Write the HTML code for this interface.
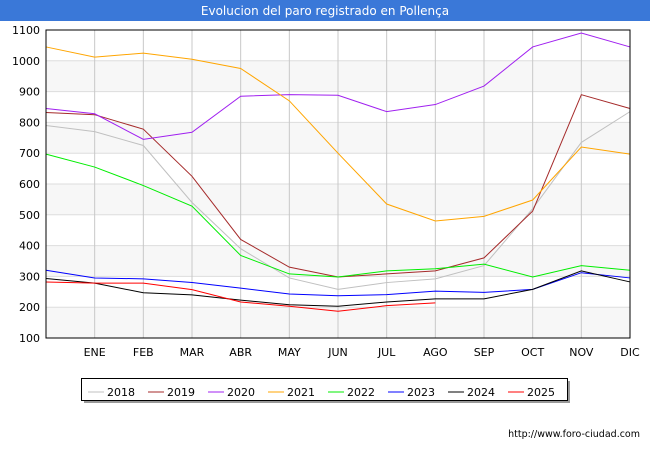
<!DOCTYPE html>
<html><head><meta charset="utf-8"><style>
body{margin:0;width:650px;height:450px;background:#fff;font-family:"DejaVu Sans","Liberation Sans",sans-serif;overflow:hidden}
svg text{font-family:"DejaVu Sans","Liberation Sans",sans-serif}
</style></head><body>
<svg id="c" width="650" height="450" xmlns="http://www.w3.org/2000/svg">
<rect x="0" y="0" width="650" height="21" fill="#3a78d8"/>
<text x="325" y="15" text-anchor="middle" fill="#fff" font-size="12">Evolucion del paro registrado en Pollença</text>
<g id="grid"></g><g id="series"></g>
<rect x="46" y="30" width="584" height="308" fill="none" stroke="#000" stroke-width="1"/>
<g id="legend"></g>
<text x="640" y="437" text-anchor="end" font-size="9.5" fill="#000">http://www.foro-ciudad.com</text>
</svg>
<script>
const months=["","ENE","FEB","MAR","ABR","MAY","JUN","JUL","AGO","SEP","OCT","NOV","DIC"];
const yTicks=[100,200,300,400,500,600,700,800,900,1000,1100];
const years=["2018","2019","2020","2021","2022","2023","2024","2025"];
const colors=["#c0c0c0","#a52a2a","#a020f0","#ffa500","#00ee00","#0000ff","#000000","#ff0000"];
const s2018=[790,770,725,540,390,295,258,280,292,335,520,735,835];
const s2019=[832,825,778,625,420,330,298,308,318,360,512,890,845];
const s2020=[845,828,745,768,885,890,888,835,858,918,1045,1090,1045];
const s2021=[1045,1012,1025,1005,975,870,700,535,480,495,548,720,697];
const s2022=[697,655,595,528,368,308,298,318,325,340,298,335,320];
const s2023=[320,295,292,280,262,243,237,241,252,248,258,312,295];
const s2024=[293,278,247,240,223,208,203,217,227,227,258,318,282];
const s2025=[282,278,278,257,217,203,187,205,214];
const seriesData=[s2018,s2019,s2020,s2021,s2022,s2023,s2024,s2025];
const NS="http://www.w3.org/2000/svg";
const X0=46,X1=630,Y0=338,Y1=30;
const xs=i=>X0+i*(X1-X0)/12;
const ys=v=>Y0-(v-100)*(Y0-Y1)/1000;
function mk(t,a,p){const e=document.createElementNS(NS,t);for(const k in a)e.setAttribute(k,a[k]);p.appendChild(e);return e;}
const grid=document.getElementById('grid');
for(let i=0;i<yTicks.length-1;i++){
 if(i%2==0){const r=mk('rect',{x:X0,y:ys(yTicks[i+1]),width:X1-X0,height:ys(yTicks[i])-ys(yTicks[i+1]),fill:'#f7f7f7'},grid);
 
 }
}
yTicks.forEach(v=>{
 const l=mk('line',{x1:X0,x2:X1,y1:ys(v),y2:ys(v),stroke:'#ddd'},grid);
 
 
 const t=mk('text',{x:40,y:ys(v)+4,'text-anchor':'end','font-size':11,fill:'#000'},grid);t.textContent=v;
 
 
});
months.forEach((m,i)=>{
 if(i==0)return;
 const l=mk('line',{x1:xs(i),x2:xs(i),y1:Y1,y2:Y0,stroke:'#c8c8c8'},grid);
 
 
 const t=mk('text',{x:xs(i),y:356,'text-anchor':'middle','font-size':11,fill:'#000'},grid);t.textContent=m;
 
 
});
const sg=document.getElementById('series');
seriesData.forEach((d,k)=>{
 const p=mk('polyline',{points:d.map((v,i)=>xs(i)+','+ys(v)).join(' '),fill:'none',stroke:colors[k],'stroke-width':1},sg);
 
 
});
const lg=document.getElementById('legend');
const sh=mk('rect',{x:84,y:381,width:486,height:22,fill:'#999'},lg);


const box=mk('rect',{x:81.5,y:378.5,width:486,height:22,fill:'#fff',stroke:'#000'},lg);


years.forEach((y,k)=>{
 const x0=88+k*60;
 const l=mk('line',{x1:x0,x2:x0+16,y1:392,y2:392,stroke:colors[k],'stroke-width':1},lg);
 
 
 const t=mk('text',{x:x0+19,y:396,'font-size':11,fill:'#000'},lg);t.textContent=y;
 
 
});
</script>
</body></html>
